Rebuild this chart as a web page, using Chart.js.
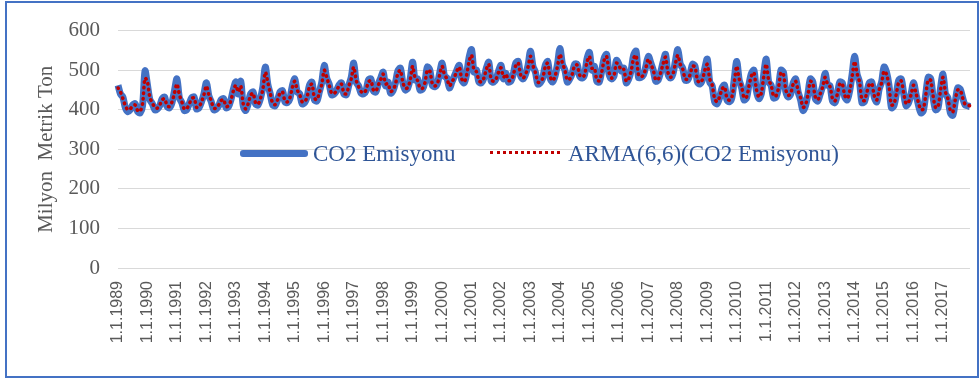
<!DOCTYPE html>
<html>
<head>
<meta charset="utf-8">
<script src="https://cdn.jsdelivr.net/npm/chart.js@4.4.1/dist/chart.umd.min.js"></script>
<style>
  html, body { margin: 0; padding: 0; background: #fff; }
  #wrap { position: relative; width: 980px; height: 379px; }
  #frame { position: absolute; left: 5px; top: 1px; width: 970px; height: 373px; border: 2px solid #4472c4; pointer-events: none; }
  .lg { position: absolute; font-family: "Liberation Serif", "Times New Roman", serif; font-size: 23px; line-height: 23px; color: #2f5597; white-space: nowrap; }
  #lgBlue { position: absolute; left: 240px; top: 150px; width: 68px; height: 7px; background: #4472c4; border-radius: 3px; }
  #lgRed { position: absolute; left: 490px; top: 151px; width: 70px; height: 0; border-top: 3px dotted #c00000; }
</style>
</head>
<body>
<div id="wrap">
  <canvas id="co2Chart" width="980" height="379"></canvas>
  <div id="frame"></div>
  <div id="lgBlue"></div>
  <div class="lg" style="left:313px; top:142px;">CO2 Emisyonu</div>
  <div id="lgRed"></div>
  <div class="lg" style="left:568px; top:142px;">ARMA(6,6)(CO2 Emisyonu)</div>
</div>
<script>
const years = [1989,1990,1991,1992,1993,1994,1995,1996,1997,1998,1999,2000,2001,2002,2003,
               2004,2005,2006,2007,2008,2009,2010,2011,2012,2013,2014,2015,2016,2017];
const yTicks = [0,100,200,300,400,500,600];

// aylik CO2 emisyonu (milyon metrik ton), Ocak..Aralik
const co2 = [
  462,440,432,405,395,400,412,415,395,392,410,498, // 1989
  462,425,415,400,402,410,428,432,408,405,418,448, // 1990
  478,430,418,398,400,415,430,432,402,405,420,440, // 1991
  468,435,420,400,402,410,425,428,405,408,425,452, // 1992
  470,440,472,410,398,415,440,445,415,412,428,458, // 1993
  508,465,440,412,410,425,445,448,420,418,428,460, // 1994
  478,445,440,415,418,432,462,470,425,422,445,470, // 1995
  512,480,465,438,440,448,462,468,440,438,462,482, // 1996
  518,470,460,442,440,448,475,478,448,445,465,480, // 1997
  495,460,470,442,448,468,498,505,468,450,455,478, // 1998
  520,475,478,450,452,470,508,500,462,458,465,492, // 1999
  518,485,480,455,470,485,500,512,475,468,490,532, // 2000
  552,495,500,470,468,480,505,520,472,470,478,498, // 2001
  512,478,492,470,472,490,518,522,485,478,490,512, // 2002
  548,510,495,465,468,480,512,522,480,470,485,515, // 2003
  555,515,500,470,478,492,515,515,485,480,488,528, // 2004
  545,500,510,472,470,498,530,540,490,478,485,525, // 2005
  515,498,505,468,478,500,538,548,482,482,488,510, // 2006
  535,518,500,472,475,495,520,540,490,480,490,522, // 2007
  552,515,505,475,475,490,515,510,470,465,475,505, // 2008
  528,470,460,420,415,430,455,462,425,420,430,478, // 2009
  522,475,455,425,430,465,492,500,448,428,440,490, // 2010
  528,470,462,430,432,455,500,495,445,432,440,468, // 2011
  478,445,425,398,410,440,478,470,428,422,440,460, // 2012
  492,462,460,422,418,440,470,468,432,425,448,490, // 2013
  535,490,470,418,420,445,468,470,432,420,452,470, // 2014
  508,495,462,405,410,440,475,478,440,410,418,440, // 2015
  468,440,412,392,398,440,482,478,430,400,405,455, // 2016
  490,440,430,392,386,420,455,452,430,412,410,408  // 2017
];

// ARMA(6,6) tahmin degerleri
const arma = [
  455,445,428,410,400,402,410,412,398,396,415,480, // 1989
  470,430,418,405,404,412,425,428,410,408,420,442, // 1990
  465,438,420,402,403,414,428,430,406,407,420,438, // 1991
  460,438,422,404,404,412,423,426,408,410,424,448, // 1992
  462,445,460,415,402,415,436,442,418,414,428,452, // 1993
  495,470,442,416,413,425,442,445,422,420,430,456, // 1994
  472,450,438,420,420,432,458,465,430,425,443,465, // 1995
  500,482,462,442,441,448,460,465,442,440,460,478, // 1996
  508,475,458,446,442,450,470,474,450,447,462,477, // 1997
  490,465,466,446,450,465,492,500,470,454,456,475, // 1998
  510,480,474,455,454,468,500,498,466,460,465,488, // 1999
  510,488,478,460,470,482,498,508,478,470,488,522, // 2000
  538,500,496,474,470,480,502,515,476,472,478,495, // 2001
  506,482,490,474,474,488,512,518,488,480,490,508, // 2002
  535,512,494,470,470,480,508,518,484,473,485,510, // 2003
  540,518,500,475,478,490,512,513,488,482,488,520, // 2004
  535,505,506,476,473,495,525,535,494,480,486,518, // 2005
  512,500,502,472,478,498,530,538,488,483,488,506, // 2006
  528,515,500,476,477,493,516,533,494,482,490,516, // 2007
  538,515,503,478,477,489,510,508,475,468,476,500, // 2008
  515,478,462,428,420,432,452,458,430,424,432,470, // 2009
  510,478,458,430,432,460,486,494,452,432,442,484, // 2010
  515,475,462,435,435,455,494,490,450,436,442,465, // 2011
  472,448,430,406,412,438,472,466,432,425,440,458, // 2012
  482,465,458,428,422,440,466,465,436,428,447,484, // 2013
  522,492,470,425,423,444,464,466,436,424,450,468, // 2014
  498,490,460,412,414,440,470,473,442,415,420,438, // 2015
  462,442,418,400,402,438,476,474,434,405,408,450, // 2016
  482,445,428,398,394,425,450,450,430,414,412,410  // 2017
];

const labels = [];
years.forEach(function(y){
  for (let m = 1; m <= 12; m++) labels.push("1." + m + "." + y);
});

const gray = "#595959";

new Chart(document.getElementById("co2Chart"), {
  type: "line",
  data: {
    labels: labels,
    datasets: [
      {
        label: "ARMA(6,6)(CO2 Emisyonu)",
        data: arma,
        borderColor: "#c00000",
        borderWidth: 3.5,
        borderDash: [0.5, 5],
        borderCapStyle: "round",
        pointRadius: 0,
        tension: 0.3,
        fill: false,
        order: 0
      },
      {
        label: "CO2 Emisyonu",
        data: co2,
        borderColor: "#4472c4",
        borderWidth: 7,
        pointRadius: 0,
        tension: 0.3,
        fill: false,
        order: 1
      }
    ]
  },
  options: {
    responsive: false,
    animation: false,
    layout: { padding: { top: 20, right: 10, left: 0, bottom: 0 } },
    plugins: {
      legend: { display: false },
      tooltip: { enabled: false }
    },
    scales: {
      x: {
        offset: false,
        grid: { display: false, drawTicks: false },
        border: { display: false },
        afterFit: function(scale){ scale.height = 111; },
        ticks: {
          autoSkip: false,
          minRotation: 90,
          maxRotation: 90,
          padding: 13,
          color: gray,
          font: { family: "Liberation Sans", size: 16 },
          callback: function(val, i){ return i % 12 === 0 ? labels[i] : null; }
        }
      },
      y: {
        min: 0,
        max: 600,
        afterFit: function(scale){ scale.width = 118; },
        afterBuildTicks: function(scale){ scale.ticks = yTicks.map(v => ({ value: v })); },
        grid: { color: "#d9d9d9", lineWidth: 1, drawTicks: false },
        border: { display: false },
        ticks: {
          padding: 18,
          color: gray,
          font: { family: "Liberation Serif", size: 21 }
        },
        title: {
          display: true,
          text: "Milyon  Metrik Ton",
          color: gray,
          font: { family: "Liberation Serif", size: 21, weight: "normal" },
          padding: { top: 34, bottom: 0 }
        }
      }
    }
  }
});
</script>
</body>
</html>
